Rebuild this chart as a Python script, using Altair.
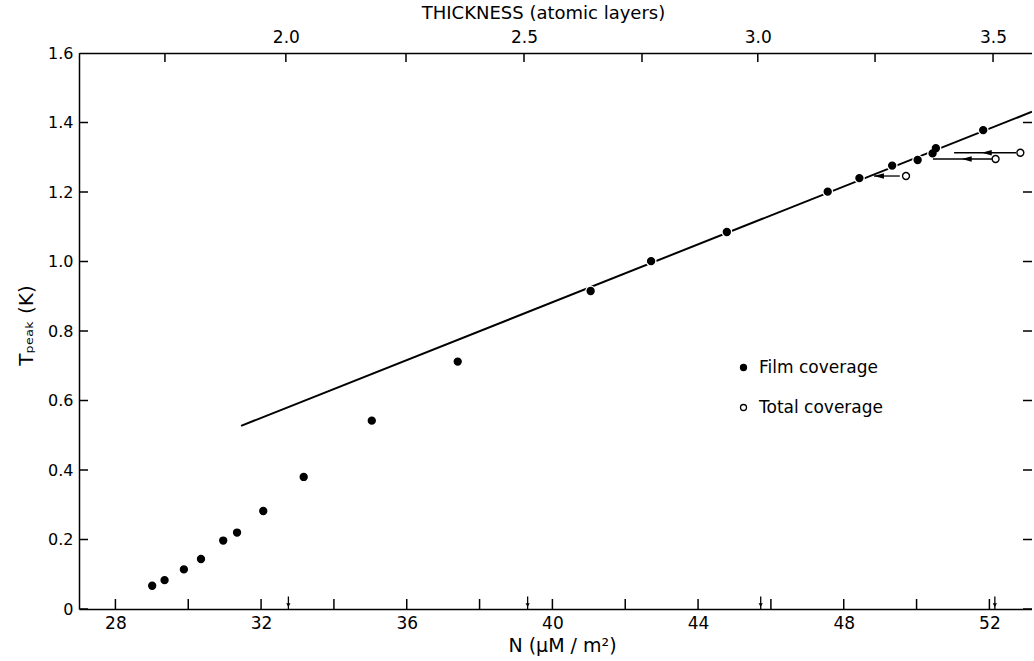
import altair as alt
import pandas as pd

# ---- data ----
film_N = [29.01, 29.35, 29.88, 30.35, 30.96, 31.34, 32.06, 33.17, 35.04, 37.40,
          41.05, 42.71, 44.79, 47.56, 48.43, 49.33, 50.03, 50.44, 50.53, 51.83]
film_T = [0.067, 0.083, 0.114, 0.144, 0.197, 0.220, 0.282, 0.380, 0.542, 0.712,
          0.915, 1.001, 1.085, 1.201, 1.240, 1.276, 1.292, 1.311, 1.326, 1.378]
total_N = [49.71, 52.17, 52.85]
total_T = [1.246, 1.295, 1.313]
arrow_right = [49.54, 52.07, 52.73]
arrow_left = [48.83, 50.45, 51.03]
arrow_tip = [48.83, 51.24, 51.79]
fit_N = [31.45, 53.17]
fit_T = [0.527, 1.431]
layer_marks_N = [32.75, 39.32, 45.72, 52.15]
series_names = ["Film coverage", "Total coverage"]

bottom_ticks = [28, 30, 32, 34, 36, 38, 40, 42, 44, 46, 48, 50, 52]
bottom_labels = [28, 32, 36, 40, 44, 48, 52]
left_ticks = [0.0, 0.2, 0.4, 0.6, 0.8, 1.0, 1.2, 1.4, 1.6]
# top (thickness) axis: tick positions read on the N scale, and their labels
top_tick_N = [29.36, 32.68, 35.98, 39.22, 42.46, 45.64, 48.86, 52.10]
top_label_N = [32.68, 39.22, 45.64, 52.10]
top_label_text = ["2.0", "2.5", "3.0", "3.5"]

X_DOMAIN = [27, 53.17]
Y_DOMAIN = [0, 1.6]

FONT = "DejaVu Sans"

# ---- tables ----
pts_df = pd.DataFrame({
    "N": film_N + total_N,
    "T": film_T + total_T,
    "series": [series_names[0]] * len(film_N) + [series_names[1]] * len(total_N),
})
film_df = pd.DataFrame({"N": film_N, "T": film_T})
fit_df = pd.DataFrame({"N": fit_N, "T": fit_T})
arrow_df = pd.DataFrame({"x1": arrow_left, "x2": arrow_right, "tip": arrow_tip, "T": total_T})
marks_df = pd.DataFrame({"N": layer_marks_N})
bt_df = pd.DataFrame({"N": bottom_ticks})
lt_df = pd.DataFrame({"T": left_ticks})
tt_df = pd.DataFrame({"N": top_tick_N})

xs = alt.Scale(domain=X_DOMAIN, nice=False, zero=False)
ys = alt.Scale(domain=Y_DOMAIN, nice=False, zero=False)

x_axis = alt.Axis(orient="bottom", values=bottom_labels, title="N (\u03bcM / m\u00b2)",
                  labelPadding=6, titlePadding=5, labelFlush=False, titleFontSize=19,
                  labelFontSize=17, titleX=483)
y_axis = alt.Axis(orient="left", values=left_ticks, title="T\u209a\u2091\u2090\u2096 (K)",
                  labelExpr="datum.value == 0 ? '0' : format(datum.value, '.1f')",
                  labelPadding=6, titlePadding=11, labelFlush=False, labelFontSize=16,
                  titleFontSize=20, titleY=272)
top_expr = "{}[indexof({}, datum.value)]".format(
    "[" + ",".join("'%s'" % s for s in top_label_text) + "]",
    "[" + ",".join(str(v) for v in top_label_N) + "]",
)
top_axis = alt.Axis(orient="top", values=top_label_N, labelExpr=top_expr,
                    title="THICKNESS (atomic layers)", labelPadding=7,
                    titlePadding=6, labelFlush=False, titleX=464, labelFontSize=17,
                    titleFontSize=18)

fit = alt.Chart(fit_df).mark_line(color="black", strokeWidth=2, clip=True).encode(
    x=alt.X("N:Q", scale=xs, axis=x_axis),
    y=alt.Y("T:Q", scale=ys, axis=y_axis),
)

halo = alt.Chart(film_df).mark_circle(color="white", size=120, opacity=1).encode(
    x=alt.X("N:Q", scale=xs, axis=None),
    y=alt.Y("T:Q", scale=ys, axis=None),
)

rules = alt.Chart(arrow_df).mark_rule(color="black", strokeWidth=1.3).encode(
    x=alt.X("x1:Q", scale=xs, axis=None),
    x2="x2:Q",
    y=alt.Y("T:Q", scale=ys, axis=None),
)
heads = alt.Chart(arrow_df).mark_point(shape="M0,0L2,-0.55L2,0.55Z", filled=True,
                                       color="black", size=100, opacity=1).encode(
    x=alt.X("tip:Q", scale=xs, axis=None),
    y=alt.Y("T:Q", scale=ys, axis=None),
)

points = alt.Chart(pts_df).mark_circle(stroke="black", strokeWidth=1.4, opacity=1, size=48).encode(
    x=alt.X("N:Q", scale=xs, axis=None),
    y=alt.Y("T:Q", scale=ys, axis=None),
    fill=alt.Fill("series:N", scale=alt.Scale(domain=series_names, range=["black", "white"]),
                  legend=alt.Legend(orient="none", legendX=656, legendY=306, title=None,
                                    labelFontSize=17, symbolSize=36, symbolStrokeColor="black",
                                    symbolStrokeWidth=1.3, labelOffset=7, rowPadding=22,
                                    symbolType="circle")),
)

bticks = alt.Chart(bt_df).mark_tick(orient="vertical", size=20, thickness=1.5, color="black",
                                    clip=True, opacity=1).encode(
    x=alt.X("N:Q", scale=xs, axis=None),
    y=alt.datum(0, axis=None),
)
tticks = alt.Chart(tt_df).mark_tick(orient="vertical", size=18, thickness=1.5, color="black",
                                    clip=True, opacity=1).encode(
    x=alt.X("N:Q", scale=xs, axis=top_axis),
    y=alt.datum(Y_DOMAIN[1], axis=None),
)
marks_rule = alt.Chart(marks_df).mark_rule(color="black", strokeWidth=1.3).encode(
    x=alt.X("N:Q", scale=xs, axis=None),
    y=alt.datum(0, axis=None),
    y2=alt.datum(0.036),
)
marks_head = alt.Chart(marks_df).mark_point(shape="triangle-down", filled=True, color="black",
                                            size=18, opacity=1).encode(
    x=alt.X("N:Q", scale=xs, axis=None),
    y=alt.datum(0.011, axis=None),
)
lticks = alt.Chart(lt_df).mark_tick(orient="horizontal", size=18, thickness=1.5, color="black",
                                    clip=True, opacity=1).encode(
    y=alt.Y("T:Q", scale=ys, axis=None),
    x=alt.datum(X_DOMAIN[0], axis=None),
)
rticks = alt.Chart(lt_df).mark_tick(orient="horizontal", size=18, thickness=1.5, color="black",
                                    clip=True, opacity=1).encode(
    y=alt.Y("T:Q", scale=ys, axis=None),
    x=alt.datum(X_DOMAIN[1], axis=None),
)

chart = alt.layer(
    fit, halo, rules, heads, points, bticks, tticks, marks_rule, marks_head, lticks, rticks
).resolve_axis(x="independent", y="independent").properties(
    width=953, height=556,
    autosize=alt.AutoSizeParams(type="none"),
    padding={"left": 79, "top": 53, "right": 0, "bottom": 48},
).configure_view(stroke=None).configure_axis(
    domainColor="black", domainWidth=1.5, labelColor="black", titleColor="black",
    labelFont=FONT, titleFont=FONT, labelFontSize=15, titleFontSize=16,
    titleFontWeight="normal", grid=False, ticks=False,
).configure_legend(labelFont=FONT, labelColor="black")

chart.save("out.html", embed_options={"renderer": "svg", "actions": False})
